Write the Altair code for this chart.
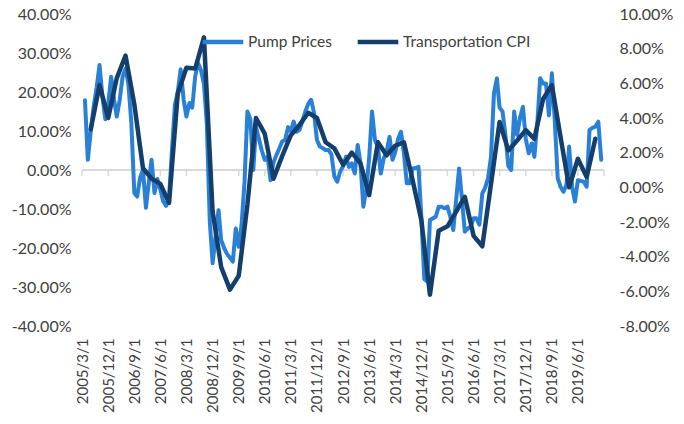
import altair as alt
import pandas as pd

# ---- data -----------------------------------------------------------------
series_names = ["Pump Prices", "Transportation CPI"]

# Pump prices, monthly, first value = 2005/4/1 (percent, left axis)
pump_start = "2005/04/01"
pump = [
    17.9, 2.6, 10, 16.2, 21, 26.9, 19, 13, 17, 23.9,
    18, 13.7, 18, 23.9, 26, 22, 12, -5.9, -6.8, -2,
    0, -9.7, -3, 2.6, -5.9, -2.3, -5, -8, -9.2, -7,
    5, 16.7, 20, 25.8, 18, 13.7, 17.2, 16, 24, 27.4,
    25.6, 22, 12, -13, -23.9, -17, -10.3, -18, -20, -21.5,
    -22.5, -23.5, -15, -19.7, -14, -3, 15, 13, 0, 11,
    8, 5, 2.6, 3.4, -2.6, 2, 3.8, 5.5, 7.3, 7.7,
    11, 10, 12.4, 9.8, 10.3, 12.5, 15, 17, 18, 14.6,
    7.7, 6, 5.6, 5.1, 5.1, 4, -1.7, -3.0, -0.4, 1,
    3.4, 0.8, 1.7, -0.9, 6.4, 2, -9.4, -5, 3, 15,
    7.7, 6, -0.9, 3, 4.7, 8.5, 2.6, 4.5, 8, 9.8,
    4.3, -3.4, -3.4, 0.4, 0.5, 0.8, -12, -28, -28.6, -12.8,
    -12.4, -12, -9.4, -9.4, -9.8, -9.4, -12, -15.4, -7.7, 0.4,
    -7.7, -15.8, -15, -14.5, -12.4, -12.4, -14, -6, -4.5, -2,
    3.4, 19.7, 23.5, 16, 15, 9, 1, 0, 15, 9,
    13.3, 16.2, 8, 4.3, 6.8, 3.4, 12, 23.5, 22.2, 22.2,
    14, 24.8, 12.8, -2.1, -4.3, -5.6, -3.8, 6, -4.3, -8.1,
    -2.6, -2.8, -3.0, -4.3, 10.3, 10.8, 11.1, 12.4, 2.6,
]

# Transportation CPI, quarterly, first value = 2005/6/1 (percent, right axis)
cpi_start = "2005/06/01"
cpi = [
    3.35, 5.9, 4.0, 6.3, 7.6, 4.8, 1.1, 0.5, 0.2, -0.9,
    5.4, 6.9, 6.85, 8.65, -1.4, -4.6, -5.9, -5.1, -1.0, 4.0,
    3.1, 0.5, 1.8, 3.0, 3.6, 4.3, 4.0, 2.6, 2.25, 1.3,
    2.0, 1.4, -0.45, 2.6, 1.85, 2.4, 2.6, 0.4, -1.9, -6.2,
    -2.5, -2.25, -1.4, -0.55, -2.8, -3.4, 0.2, 3.77, 2.13, 2.7,
    3.3, 2.8, 5.1, 5.9, 2.9, 0.0, 1.65, 0.6, 2.8,
]

# category-axis tick labels (every 9 months); last tick has no label
tick_labels = [
    "2005/3/1", "2005/12/1", "2006/9/1", "2007/6/1", "2008/3/1",
    "2008/12/1", "2009/9/1", "2010/6/1", "2011/3/1", "2011/12/1",
    "2012/9/1", "2013/6/1", "2014/3/1", "2014/12/1", "2015/9/1",
    "2016/6/1", "2017/3/1", "2017/12/1", "2018/9/1", "2019/6/1",
]
axis_end = "2020/3/1"

left_ticks = [-40, -30, -20, -10, 0, 10, 20, 30, 40]
right_ticks = [-8, -6, -4, -2, 0, 2, 4, 6, 8, 10]

# ---- tables ---------------------------------------------------------------
def fmt(ts):
    return ts.strftime("%Y/%m/%d")

pump_df = pd.DataFrame({
    "date": [fmt(d) for d in pd.date_range(pump_start, periods=len(pump), freq="MS")],
    "value": pump,
    "series": series_names[0],
})
cpi_df = pd.DataFrame({
    "date": [fmt(d) for d in pd.date_range(cpi_start, periods=len(cpi), freq="3MS")],
    "value": cpi,
    "series": series_names[1],
})
tick_df = pd.DataFrame({"date": [fmt(pd.Timestamp(t)) for t in tick_labels + [axis_end]]})


def to_dt(s):
    y, m, d = (int(p) for p in s.split("/"))
    return alt.DateTime(year=y, month=m, date=d)


tick_values = [to_dt(t) for t in tick_labels + [axis_end]]

LIGHT = "#2a80d6"
DARK = "#143f6c"
TEXT = "#404040"
AXIS = "#d9d9d9"
PCT = "(datum.value < 0 ? '-' : '') + format(abs(datum.value), '.2f') + '%'"

x_scale = alt.Scale(domain=[to_dt(tick_labels[0]), to_dt(axis_end)], nice=False)
x_axis = alt.Axis(
    values=tick_values,
    labelExpr="year(datum.value) == 2020 ? '' : timeFormat(datum.value, '%Y/%-m/%-d')",
    labelAngle=270,
    labelAlign="right",
    labelBaseline="middle",
    labelPadding=12,
    labelFontSize=15,
    labelColor=TEXT,
    domain=False,
    ticks=False,
    grid=False,
    title=None,
    labelOverlap=False,
    labelBound=False,
)

color_scale = alt.Scale(domain=series_names, range=[LIGHT, DARK])
legend = alt.Legend(
    orient="none",
    legendX=118,
    legendY=5,
    direction="horizontal",
    title=None,
    symbolType="stroke",
    symbolStrokeWidth=4.5,
    symbolSize=1650,
    labelFontSize=15.5,
    labelColor=TEXT,
    labelOffset=2,
    columnPadding=16,
)

y_left_scale = alt.Scale(domain=[-40, 40], nice=False, zero=False)
y_left_axis = alt.Axis(
    values=left_ticks,
    labelExpr=PCT,
    domain=False, ticks=False, grid=False, title=None,
    labelFontSize=16, labelColor=TEXT, labelPadding=11,
    labelOverlap=False,
)
y_right_axis = alt.Axis(
    orient="right",
    values=right_ticks,
    labelExpr=PCT,
    domain=False, ticks=False, grid=False, title=None,
    labelFontSize=16, labelColor=TEXT, labelPadding=15,
    labelOverlap=False,
)

pump_line = alt.Chart(pump_df).mark_line(
    strokeWidth=4, strokeJoin="round", strokeCap="round"
).encode(
    x=alt.X("date:T", scale=x_scale, axis=x_axis),
    y=alt.Y("value:Q", scale=y_left_scale, axis=y_left_axis),
    color=alt.Color("series:N", scale=color_scale, legend=legend),
)

zero_line = alt.Chart(pump_df).mark_rule(color=AXIS, strokeWidth=1.5).encode(
    y=alt.Y(datum=0, scale=y_left_scale, axis=y_left_axis),
)

x_ticks = alt.Chart(tick_df).mark_rule(color=AXIS, strokeWidth=1.5).encode(
    x=alt.X("date:T", scale=x_scale, axis=x_axis),
    y=alt.Y(datum=0, scale=y_left_scale, axis=y_left_axis),
    y2=alt.datum(-1.6),
)

left_layer = alt.layer(zero_line, x_ticks, pump_line)

cpi_line = alt.Chart(cpi_df).mark_line(
    strokeWidth=4.5, strokeJoin="round", strokeCap="round"
).encode(
    x=alt.X("date:T", scale=x_scale, axis=x_axis),
    y=alt.Y(
        "value:Q",
        scale=alt.Scale(domain=[-8, 10], nice=False, zero=False),
        axis=y_right_axis,
    ),
    color=alt.Color("series:N", scale=color_scale, legend=legend),
)

chart = alt.layer(left_layer, cpi_line).resolve_scale(y="independent").properties(
    width=522,
    height=312,
    autosize=alt.AutoSizeParams(type="none"),
    padding={"left": 82, "top": 14, "right": 80, "bottom": 98},
).configure(
    font="Lato",
    background="white",
).configure_axis(
    labelOverlap=False,
).configure_view(stroke=None)

chart.save("out.html", embed_options={"renderer": "svg", "actions": False})
